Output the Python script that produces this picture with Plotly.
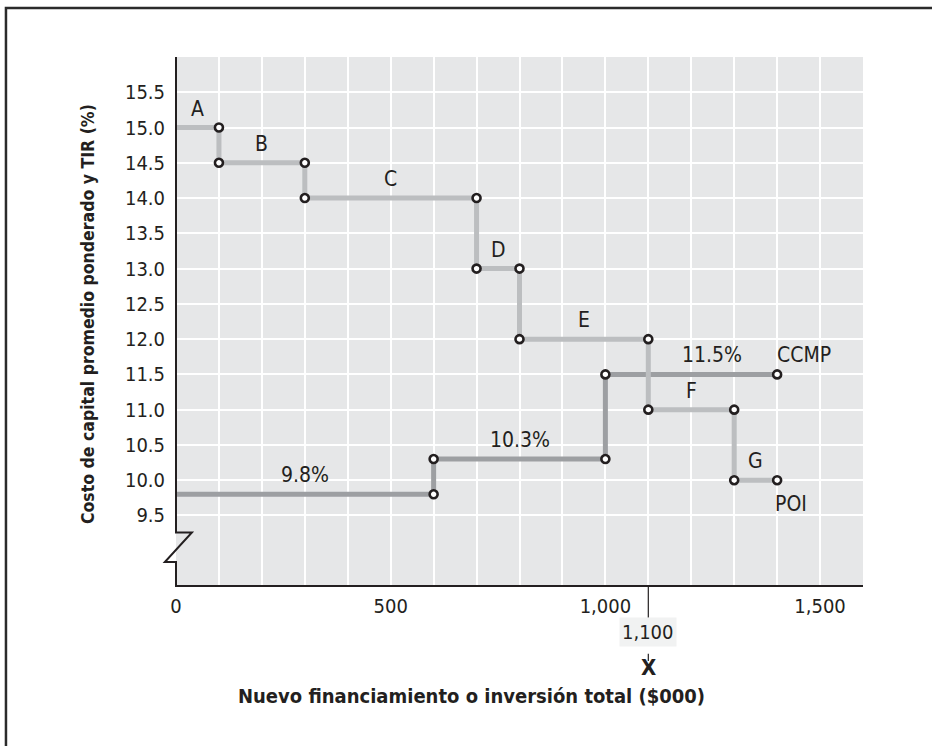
import plotly.graph_objects as go

# ---------------- data ----------------
poi_limits = [100, 300, 700, 800, 1100, 1300, 1400]
poi_rates = [15.0, 14.5, 14.0, 13.0, 12.0, 11.0, 10.0]
poi_names = ["A", "B", "C", "D", "E", "F", "G"]

ccmp_limits = [600, 1000, 1400]
ccmp_rates = [9.8, 10.3, 11.5]
ccmp_names = ["9.8%", "10.3%", "11.5%"]

x_tickvals = [0, 500, 1000, 1500]
x_ticktext = ["0", "500", "1,000", "1,500"]
y_tickvals = [9.5, 10.0, 10.5, 11.0, 11.5, 12.0, 12.5, 13.0, 13.5, 14.0, 14.5, 15.0, 15.5]
y_ticktext = ["9.5", "10.0", "10.5", "11.0", "11.5", "12.0", "12.5", "13.0", "13.5", "14.0", "14.5", "15.0", "15.5"]

x_optimal = 1100
x_optimal_label = "1,100"
rate_optimal = 11.5

X_RANGE = [0, 1600]
Y_RANGE = [8.5, 16]

FONT = "Liberation Sans Narrow, DejaVu Sans Condensed, Arial Narrow, sans-serif"
INK = "#231f20"


def steps(limits, rates):
    xs, ys, mx, my = [0], [rates[0]], [], []
    for i, (lim, r) in enumerate(zip(limits, rates)):
        xs.append(lim); ys.append(r)
        mx.append(lim); my.append(r)
        if i + 1 < len(rates):
            xs.append(lim); ys.append(rates[i + 1])
            mx.append(lim); my.append(rates[i + 1])
    return xs, ys, mx, my


def px_(v):  # data x -> paper x
    return (v - X_RANGE[0]) / (X_RANGE[1] - X_RANGE[0])


def py_(v):  # data y -> paper y
    return (v - Y_RANGE[0]) / (Y_RANGE[1] - Y_RANGE[0])


fig = go.Figure()

cx, cy, cmx, cmy = steps(ccmp_limits, ccmp_rates)
sx, sy, smx, smy = steps(poi_limits, poi_rates)

fig.add_trace(go.Scatter(x=cx, y=cy, mode="lines",
                         line=dict(color="#9d9fa2", width=5), hoverinfo="skip", showlegend=False))
fig.add_trace(go.Scatter(x=sx, y=sy, mode="lines",
                         line=dict(color="#bcbec0", width=5), hoverinfo="skip", showlegend=False))
for mxs, mys in ((cmx, cmy), (smx, smy)):
    fig.add_trace(go.Scatter(x=mxs, y=mys, mode="markers",
                             marker=dict(size=8, color="white", line=dict(color=INK, width=2.6)),
                             hoverinfo="skip", showlegend=False))

# dashed reference lines
fig.add_shape(type="line", xref="x", yref="y", x0=0, x1=ccmp_limits[1], y0=rate_optimal, y1=rate_optimal,
              line=dict(color=INK, width=1.2, dash="dash"), layer="below")
fig.add_shape(type="line", xref="x", yref="y", x0=x_optimal, x1=x_optimal, y0=poi_rates[5], y1=Y_RANGE[0],
              line=dict(color=INK, width=1.2, dash="dash"), layer="below")
fig.add_shape(type="line", xref="x", yref="paper", x0=x_optimal, x1=x_optimal, y0=0, y1=-0.06,
              line=dict(color=INK, width=1.2))
fig.add_shape(type="line", xref="x", yref="paper", x0=x_optimal, x1=x_optimal, y0=-0.06, y1=-0.142,
              line=dict(color=INK, width=1.2, dash="dash"))

# axis with break symbol (paper coords so nothing is clipped)
brk_hi, brk_lo = 9.26, 8.84
path = (f"M {px_(0)},{py_(Y_RANGE[1])} L {px_(0)},{py_(brk_hi)} L {px_(37)},{py_(brk_hi)} "
        f"L {px_(-26)},{py_(brk_lo)} L {px_(0)},{py_(brk_lo)} L {px_(0)},{py_(Y_RANGE[0])} "
        f"L {px_(X_RANGE[1])},{py_(Y_RANGE[0])}")
fig.add_shape(type="path", xref="paper", yref="paper", path=path,
              line=dict(color=INK, width=2), layer="above")

# outer frame
fig.add_shape(type="rect", xref="paper", yref="paper", x0=-0.2475, x1=1.2, y0=-0.4, y1=1.0925,
              line=dict(color="#2b2b2b", width=2.5))

anns = []
for i, name in enumerate(poi_names):
    x0 = 0 if i == 0 else poi_limits[i - 1]
    anns.append(dict(x=(x0 + poi_limits[i]) / 2, y=poi_rates[i], text=name, yanchor="bottom", yshift=5))
for i, name in enumerate(ccmp_names):
    x0 = 0 if i == 0 else ccmp_limits[i - 1]
    anns.append(dict(x=(x0 + ccmp_limits[i]) / 2, y=ccmp_rates[i], text=name, yanchor="bottom", yshift=5,
                     xshift=21 if i == 2 else 0))
anns.append(dict(x=ccmp_limits[-1], y=ccmp_rates[-1], text="CCMP", xanchor="left", yanchor="bottom",
                 xshift=-2, yshift=5))
anns.append(dict(x=poi_limits[-1], y=poi_rates[-1], text="POI", xanchor="left", yanchor="top",
                 xshift=-4, yshift=-10))
for a in anns:
    a.update(xref="x", yref="y", xanchor=a.get("xanchor", "center"), showarrow=False,
             font=dict(family=FONT, size=21, color=INK))

anns.append(dict(xref="x", yref="paper", x=x_optimal, y=-0.087, xanchor="center", yanchor="middle",
                 text=x_optimal_label, showarrow=False, bgcolor="#f1f2f2", borderpad=2,
                 font=dict(family=FONT, size=20, color=INK)))
anns.append(dict(xref="x", yref="paper", x=x_optimal, y=-0.155, xanchor="center", yanchor="middle",
                 text="<b>X</b>", showarrow=False, font=dict(family=FONT, size=22, color=INK)))
anns.append(dict(xref="paper", yref="paper", x=(471 - 176) / 687, y=-0.207, xanchor="center",
                 yanchor="middle", text="<b>Nuevo financiamiento o inversión total ($000)</b>",
                 showarrow=False, font=dict(family=FONT, size=20, color=INK)))
anns.append(dict(xref="paper", yref="paper", x=(88 - 176) / 687, y=(586 - 314) / 529, xanchor="center",
                 yanchor="middle", textangle=-90,
                 text="<b>Costo de capital promedio ponderado y TIR (%)</b>",
                 showarrow=False, font=dict(family=FONT, size=17.5, color=INK)))

fig.update_layout(
    width=932, height=746,
    margin=dict(l=176, r=69, t=57, b=160, autoexpand=False),
    paper_bgcolor="white", plot_bgcolor="#e6e7e8",
    font=dict(family=FONT, size=20, color=INK),
    annotations=anns,
    showlegend=False,
)
fig.update_xaxes(range=X_RANGE, tickvals=x_tickvals, ticktext=x_ticktext, showgrid=True,
                 gridcolor="white", gridwidth=1.5, zeroline=False, showline=False, ticks="",
                 minor=dict(dtick=100, tick0=0, showgrid=True, gridcolor="white", gridwidth=1.5),
                 tickfont=dict(size=20), ticklabelstandoff=6, automargin=False)
fig.update_yaxes(range=Y_RANGE, tickvals=y_tickvals, ticktext=y_ticktext, showgrid=True,
                 gridcolor="white", gridwidth=1.5, zeroline=False, showline=False, ticks="",
                 tickfont=dict(size=20), ticklabelstandoff=10, automargin=False)

fig.write_html("out.html", config={"displayModeBar": False},
               post_script="document.body.style.margin='0px';")
